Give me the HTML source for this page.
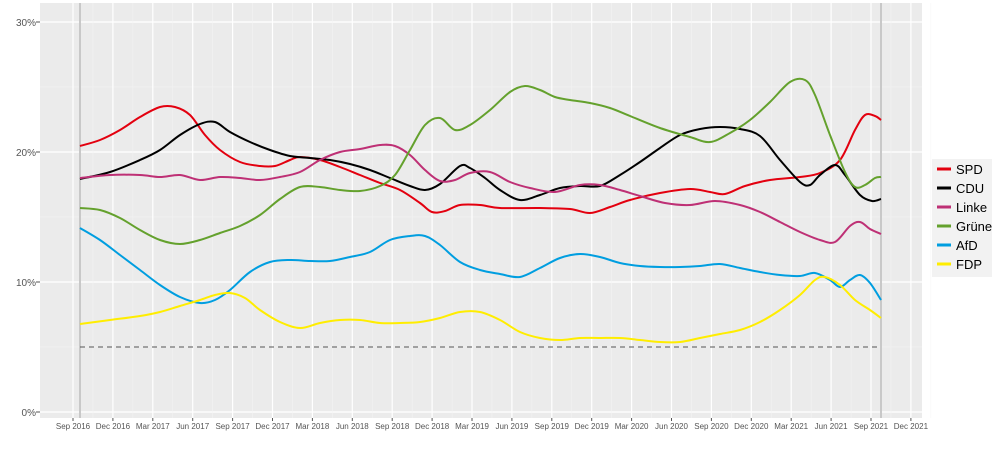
<!DOCTYPE html>
<html><head><meta charset="utf-8"><style>
body{margin:0;background:#fff;width:1000px;height:444px;overflow:hidden;font-family:"Liberation Sans",sans-serif}
</style></head><body>
<svg id="s" width="1000" height="444" xmlns="http://www.w3.org/2000/svg" font-family="Liberation Sans, sans-serif">
<rect x="40" y="3" width="882" height="415" fill="#ebebeb"/>
<g id="grid"></g>
<line x1="80" y1="3" x2="80" y2="418" stroke="#c8c8c8" stroke-width="2"/>
<line x1="881" y1="3" x2="881" y2="418" stroke="#c8c8c8" stroke-width="2"/>
<line x1="80" y1="347" x2="881" y2="347" stroke="#555" stroke-width="1" stroke-dasharray="5,4"/>
<g id="lines" fill="none" stroke-width="2" stroke-linejoin="round"></g>
<g font-size="10" fill="#555" text-anchor="end">
<text x="36" y="26">30%</text><text x="36" y="156">20%</text><text x="36" y="286">10%</text><text x="36" y="416">0%</text>
</g>
<g id="xl" font-size="8" fill="#555" text-anchor="middle"></g>
<g font-size="13" fill="#000">
<rect x="932" y="159" width="60" height="118" fill="#f2f2f2"/>
<line x1="937" x2="951" y1="169" y2="169" stroke="#e3000f" stroke-width="3"/><text x="956" y="174">SPD</text>
<line x1="937" x2="951" y1="188" y2="188" stroke="#000" stroke-width="3"/><text x="956" y="193">CDU</text>
<line x1="937" x2="951" y1="207" y2="207" stroke="#be3075" stroke-width="3"/><text x="956" y="212">Linke</text>
<line x1="937" x2="951" y1="226" y2="226" stroke="#64a12d" stroke-width="3"/><text x="956" y="231">Grüne</text>
<line x1="937" x2="951" y1="245" y2="245" stroke="#009ee0" stroke-width="3"/><text x="956" y="250">AfD</text>
<line x1="937" x2="951" y1="264" y2="264" stroke="#ffed00" stroke-width="3"/><text x="956" y="269">FDP</text>
</g>
</svg>
<script>
var NS="http://www.w3.org/2000/svg",g=document.getElementById('grid'),xl=document.getElementById('xl');
function el(p,t,a,txt){var e=document.createElementNS(NS,t);for(var k in a)e.setAttribute(k,a[k]);if(txt)e.textContent=txt;p.appendChild(e);return e;}
for(var i=0;i<=6;i++){var y=412-i*65;el(g,'line',{x1:40,x2:922,y1:y,y2:y,stroke:i%2?'#f4f4f4':'#fff','stroke-width':i%2?0.5:1.2});if(i%2==0)el(g,'line',{x1:36,x2:40,y1:y,y2:y,stroke:'#555'});}
var labs=["Sep 2016","Dec 2016","Mar 2017","Jun 2017","Sep 2017","Dec 2017","Mar 2018","Jun 2018","Sep 2018","Dec 2018","Mar 2019","Jun 2019","Sep 2019","Dec 2019","Mar 2020","Jun 2020","Sep 2020","Dec 2020","Mar 2021","Jun 2021","Sep 2021","Dec 2021"];
for(var i=0;i<labs.length;i++){var x=73+i*39.9;el(g,'line',{x1:x,x2:x,y1:3,y2:418,stroke:'#fff','stroke-width':1.2});el(g,'line',{x1:x+20,x2:x+20,y1:3,y2:418,stroke:'#f4f4f4','stroke-width':0.5});el(g,'line',{x1:x,x2:x,y1:418,y2:421,stroke:'#555'});el(xl,'text',{x:x,y:429},labs[i]);}
var D={
"#e3000f":[[80,146],[100,140],[120,130],[140,117],[160,107],[175,107],[190,115],[205,135],[220,150],[240,162],[260,166],[275,166],[290,160],[300,157],[320,160],[340,167],[360,175],[380,183],[400,190],[420,203],[432,212],[445,211],[460,205],[480,205],[500,208],[540,208],[570,209],[590,213],[610,207],[630,200],[660,193],[690,189],[710,192],[725,194],[745,186],[770,180],[800,177],[820,173],[840,160],[855,130],[865,115],[875,116],[881,120]],
"#000":[[80,179],[110,172],[140,160],[160,150],[180,135],[200,124],[215,122],[230,132],[250,142],[270,150],[290,156],[310,158],[330,160],[350,164],[370,170],[390,178],[410,186],[425,190],[440,184],[460,166],[470,168],[485,178],[500,190],[520,200],[540,195],[560,188],[580,186],[600,186],[620,175],[640,162],[660,148],[680,135],[700,129],[720,127],[740,129],[760,136],[780,160],[800,182],[810,185],[820,175],[835,165],[845,175],[860,195],[872,201],[881,199]],
"#be3075":[[80,178],[110,175],[140,175],[160,177],[180,175],[200,180],[220,177],[240,178],[260,180],[280,177],[300,172],[320,160],[340,152],[360,149],[380,145],[395,146],[410,155],[425,170],[440,181],[455,180],[470,173],[490,172],[510,182],[530,188],[555,192],[580,185],[600,185],[620,190],[640,196],[665,203],[690,205],[715,201],[740,205],[760,212],[780,222],[800,232],[820,240],[835,242],[850,226],[860,222],[870,229],[881,234]],
"#64a12d":[[80,208],[100,210],[120,218],[140,230],[160,240],[180,244],[200,240],[220,233],[240,226],[260,215],[280,199],[300,187],[320,187],[340,190],[360,191],[380,186],[395,175],[410,150],[425,125],[440,118],[455,130],[470,125],[490,110],[510,92],[525,86],[540,90],[555,97],[570,100],[590,103],[610,108],[630,116],[660,128],[690,137],[710,142],[730,133],[750,120],[770,102],[790,82],[805,80],[815,95],[830,135],[845,172],[855,187],[865,185],[875,178],[881,177]],
"#009ee0":[[80,228],[100,240],[120,255],[140,270],[160,285],[180,297],[200,303],[215,300],[230,290],[250,272],[270,262],[290,260],[310,261],[330,261],[350,257],[370,252],[390,240],[410,236],[425,236],[440,245],[460,262],[480,270],[500,274],[520,277],[540,268],[560,258],[580,254],[600,257],[620,263],[640,266],[660,267],[680,267],[700,266],[720,264],[740,268],[760,272],[780,275],[800,276],[815,273],[830,280],[840,287],[850,280],[860,275],[870,283],[881,300]],
"#ffed00":[[80,324],[110,320],[140,316],[160,312],[180,306],[200,300],[215,295],[230,293],[245,298],[260,310],[280,322],[300,328],[320,323],[340,320],[360,320],[380,323],[400,323],[420,322],[440,318],[460,312],[480,312],[500,320],[520,332],[540,338],[560,340],[580,338],[600,338],[620,338],[640,340],[660,342],[680,342],[700,338],[720,334],[740,330],[760,322],[780,310],[800,295],[815,280],[825,277],[840,285],[855,300],[870,310],[881,318]]};
var L=document.getElementById('lines');
for(var c in D){var p=D[c],d="M"+p[0][0]+","+p[0][1];
for(var i=0;i<p.length-1;i++){var p0=p[i-1]||p[i],p1=p[i],p2=p[i+1],p3=p[i+2]||p2;
d+=" C"+(p1[0]+(p2[0]-p0[0])/6)+","+(p1[1]+(p2[1]-p0[1])/6)+" "+(p2[0]-(p3[0]-p1[0])/6)+","+(p2[1]-(p3[1]-p1[1])/6)+" "+p2[0]+","+p2[1];}
el(L,'path',{d:d,stroke:c});}
</script>
</body></html>
